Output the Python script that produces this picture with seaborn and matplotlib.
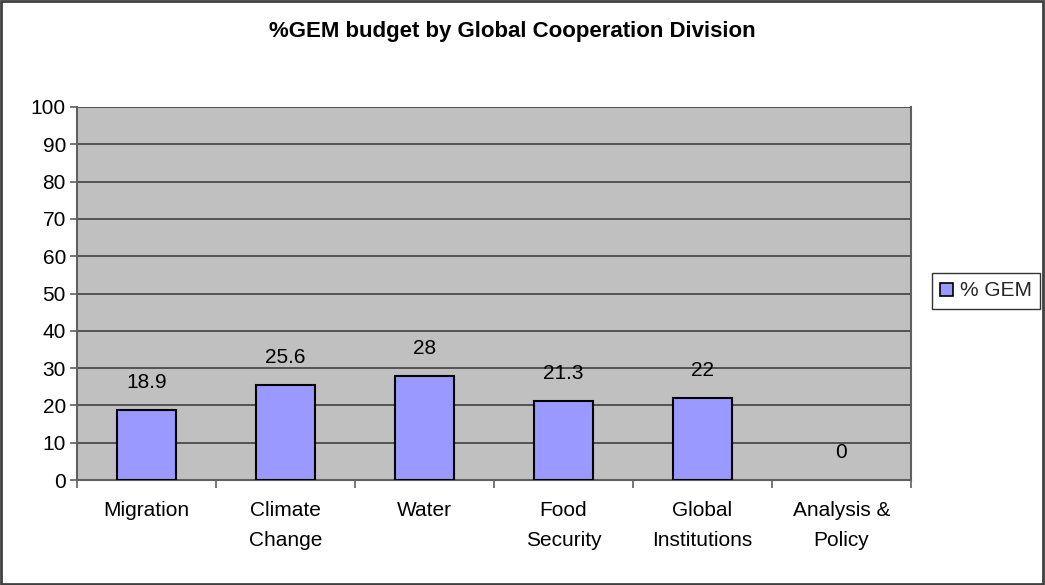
import matplotlib
matplotlib.use("Agg")
import matplotlib.pyplot as plt
from matplotlib.patches import Rectangle, Patch
from matplotlib.ticker import FixedLocator
import seaborn as sns
import pandas as pd

categories = ["Migration", "Climate\nChange", "Water", "Food\nSecurity",
              "Global\nInstitutions", "Analysis &\nPolicy"]
gem_share = [18.9, 25.6, 28, 21.3, 22, 0]
value_labels = ["18.9", "25.6", "28", "21.3", "22", "0"]
series_name = "% GEM"
title = "%GEM budget by Global Cooperation Division"

sns.set_theme(style="white")
plt.rcParams["font.family"] = ["Liberation Sans", "DejaVu Sans"]

df = pd.DataFrame({"division": categories, "share": gem_share})

fig = plt.figure(figsize=(10.45, 5.85), dpi=100)
ax = fig.add_axes([77 / 1045, 1 - 480 / 585, (911 - 77) / 1045, (480 - 107) / 585])
ax.set_facecolor("#C0C0C0")

sns.barplot(data=df, x="division", y="share", color="#9999FF", width=0.42,
            edgecolor="black", linewidth=1.5, saturation=1, ax=ax, zorder=3)

# a zero-height bar leaves no visible outline
for bar in ax.patches:
    if bar.get_height() == 0:
        bar.set_linewidth(0)

ax.set_ylim(0, 100)
ax.set_xlim(-0.5, len(categories) - 0.5)
ax.set_yticks(range(0, 101, 10))
ax.yaxis.grid(True, color="#404040", linewidth=1.2, zorder=0)
ax.set_axisbelow(True)
ax.set_xlabel("")
ax.set_ylabel("")

for side in ["left", "bottom", "right"]:
    ax.spines[side].set_visible(True)
    ax.spines[side].set_color("#606060")
    ax.spines[side].set_linewidth(1.5)
ax.spines["top"].set_visible(False)

fs = 15
ax.tick_params(axis="y", left=True, length=5, width=1.2, color="#606060",
               labelsize=fs, pad=3, labelcolor="black")
ax.tick_params(axis="x", which="major", bottom=False, length=0,
               labelsize=fs, pad=15, labelcolor="black")
ax.xaxis.set_minor_locator(FixedLocator([i - 0.5 for i in range(len(categories) + 1)]))
ax.tick_params(axis="x", which="minor", bottom=True, length=6, width=1.2, color="#606060")
for lbl in ax.get_xticklabels():
    lbl.set_linespacing(1.75)

for i, (v, txt) in enumerate(zip(gem_share, value_labels)):
    ax.annotate(txt, xy=(i, v), xytext=(0, 19.5), textcoords="offset points",
                ha="center", va="center", fontsize=fs, color="black")

fig.text(512 / 1045, 1 - 32 / 585, title, ha="center", va="center",
         fontsize=16, fontweight="bold", color="black")

handle = Patch(facecolor="#9999FF", edgecolor="black", linewidth=1.2)
leg = fig.legend([handle], [series_name], loc="center left",
                 bbox_to_anchor=(932 / 1045, 1 - 291 / 585), frameon=True,
                 fancybox=False, fontsize=fs, handlelength=0.6, handleheight=0.6,
                 handletextpad=0.35, borderpad=0.4, borderaxespad=0)
leg.get_frame().set_edgecolor("black")
leg.get_frame().set_linewidth(1.0)

fig.patches.append(Rectangle((0.001, 0.002), 0.997, 0.996, transform=fig.transFigure,
                             fill=False, edgecolor="#404040", linewidth=2))

fig.savefig("out.png", dpi=100)
